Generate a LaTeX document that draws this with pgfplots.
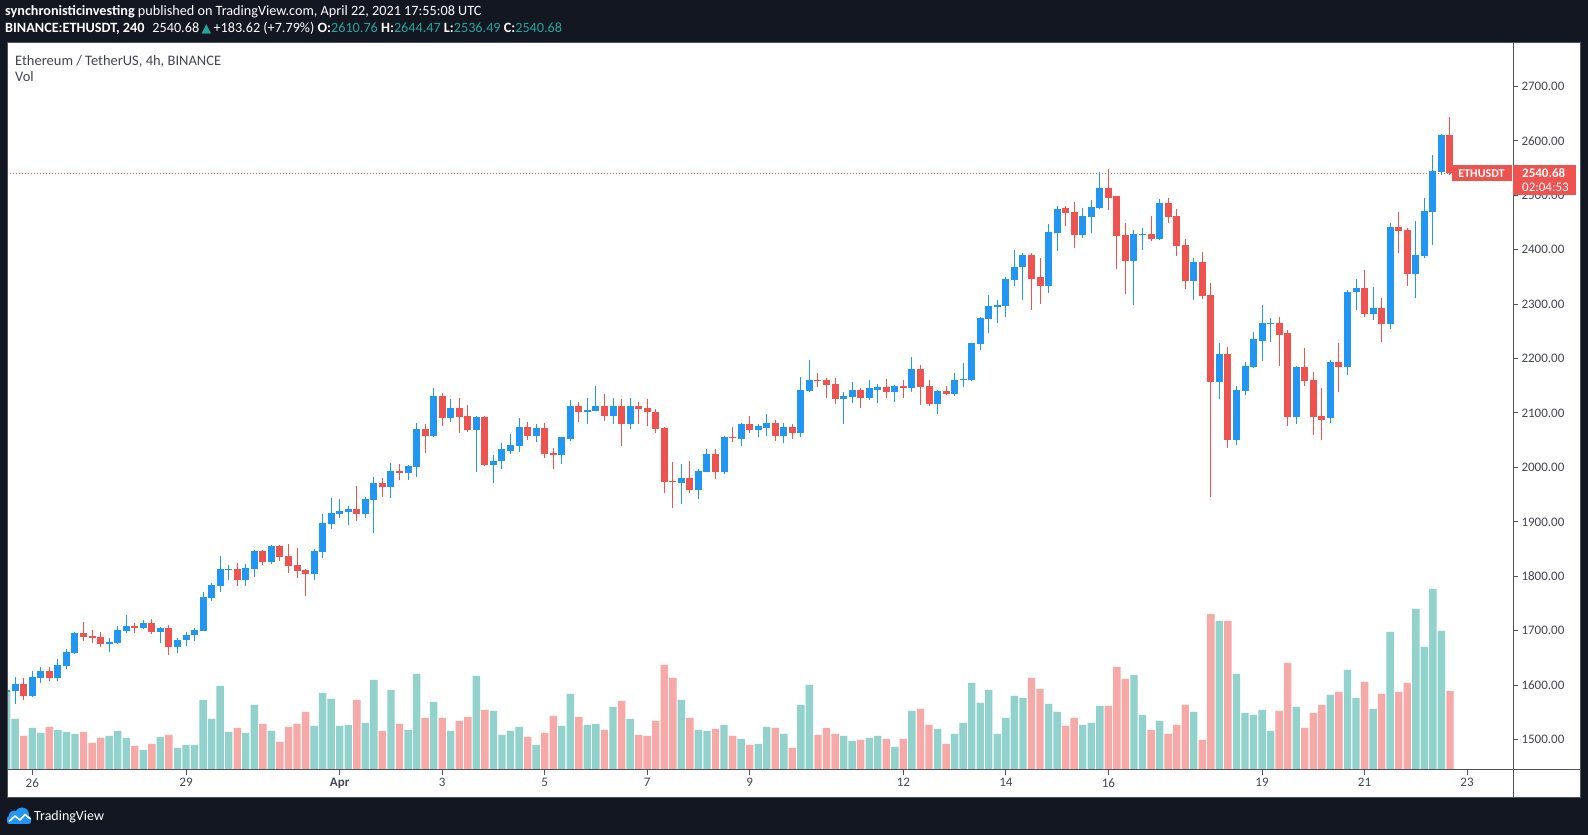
\documentclass[border=0pt]{standalone}
\usepackage{fontspec}
\setmainfont{Carlito}
\newfontfamily\dejavu{DejaVu Sans}
\usepackage{pgfplots}
\pgfplotsset{compat=1.18}
\usepackage{pgfplotstable}
\definecolor{bg}{RGB}{19,23,34}
\definecolor{upc}{RGB}{33,150,243}
\definecolor{dnc}{RGB}{239,83,80}
\definecolor{upv}{RGB}{146,210,204}
\definecolor{dnv}{RGB}{247,169,167}
\definecolor{tealc}{RGB}{38,166,154}
\definecolor{axc}{RGB}{80,83,94}
\definecolor{labc}{RGB}{67,70,81}
\definecolor{tvblue}{RGB}{33,150,243}

% up candles: t o h l c v
\pgfplotstableread{
t o h l c v
-3 1587 1593 1585 1591 79
-2 1589 1615 1565 1602 51
0 1580 1626 1579 1615 42
1 1613 1633 1604 1626 37
3 1613 1648 1607 1637 40
4 1635 1666 1630 1661 38
5 1659 1697 1657 1696 36
9 1676 1687 1661 1679 34
10 1677 1709 1676 1701 39
11 1700 1729 1696 1709 32
13 1705 1720 1703 1714 20
15 1698 1707 1677 1705 33
17 1670 1687 1659 1683 22
18 1683 1698 1672 1692 25
19 1692 1705 1681 1701 25
20 1700 1771 1699 1762 70
21 1760 1788 1755 1784 51
22 1782 1838 1771 1814 84
23 1812 1821 1793 1814 38
25 1793 1823 1782 1815 37
26 1814 1848 1799 1847 65
28 1826 1857 1823 1856 39
33 1804 1850 1793 1847 44
34 1845 1915 1834 1898 77
35 1896 1944 1887 1917 71
36 1915 1942 1907 1920 44
37 1918 1929 1895 1924 45
39 1915 1946 1907 1942 47
40 1941 1983 1880 1972 90
42 1964 2009 1944 1994 80
44 1990 2005 1977 2003 40
45 2001 2082 1983 2071 96
47 2058 2145 2056 2132 68
49 2090 2126 2084 2110 39
52 2068 2094 1992 2093 94
54 2005 2023 1972 2012 59
55 2012 2044 1998 2033 35
56 2031 2062 2025 2042 39
57 2040 2090 2029 2075 43
59 2058 2079 2047 2073 25
62 2023 2056 2007 2055 44
63 2053 2123 2049 2112 76
65 2101 2128 2080 2106 45
66 2104 2149 2103 2112 46
68 2095 2128 2080 2112 63
70 2080 2128 2071 2112 51
76 1972 2007 1933 1981 70
78 1959 1998 1942 1994 40
79 1992 2033 1991 2025 39
81 1992 2058 1988 2056 45
83 2053 2082 2040 2079 31
85 2069 2080 2055 2077 26
86 2073 2099 2057 2082 43
88 2058 2082 2044 2075 36
90 2064 2167 2055 2143 65
91 2141 2198 2138 2161 85
95 2125 2139 2080 2132 34
96 2130 2156 2119 2143 29
98 2127 2160 2123 2145 32
99 2143 2154 2119 2147 34
101 2139 2151 2121 2150 23
103 2145 2202 2139 2180 59
106 2117 2143 2099 2141 41
108 2134 2174 2132 2161 36
109 2160 2191 2147 2162 47
110 2160 2229 2159 2228 87
111 2226 2276 2215 2274 67
112 2272 2316 2246 2296 80
113 2294 2307 2265 2298 36
114 2296 2349 2277 2346 52
115 2344 2399 2334 2369 74
116 2368 2393 2307 2390 72
119 2333 2447 2320 2432 66
120 2430 2480 2397 2474 58
123 2427 2476 2421 2461 45
124 2460 2491 2430 2478 47
125 2476 2542 2474 2513 64
129 2380 2436 2298 2428 95
130 2426 2439 2399 2428 55
132 2419 2493 2418 2485 49
136 2342 2384 2307 2377 58
139 2157 2228 2125 2209 149
141 2050 2149 2042 2143 96
142 2140 2193 2133 2187 57
143 2185 2248 2183 2235 55
144 2233 2299 2195 2265 60
145 2263 2274 2230 2266 39
148 2092 2187 2079 2185 63
152 2090 2198 2082 2193 75
154 2184 2325 2169 2323 100
155 2322 2346 2290 2329 72
157 2281 2331 2270 2292 61
159 2263 2449 2255 2441 138
162 2355 2452 2311 2390 161
163 2388 2495 2384 2471 123
164 2469 2574 2408 2544 181
165 2542 2612 2537 2611 139
}\upT

% down candles: t o h l c v
\pgfplotstableread{
t o h l c v
-1 1602 1613 1572 1580 34
2 1626 1633 1607 1613 43
6 1696 1716 1681 1688 38
7 1690 1701 1677 1687 27
8 1688 1698 1670 1676 32
12 1709 1714 1696 1705 24
14 1714 1722 1694 1698 26
16 1705 1711 1655 1670 35
24 1814 1825 1782 1793 42
27 1847 1848 1821 1826 46
29 1856 1857 1828 1836 28
30 1837 1860 1806 1819 43
31 1821 1852 1797 1810 46
32 1812 1814 1764 1804 58
38 1924 1966 1902 1915 70
41 1972 1981 1946 1964 39
43 1994 2007 1977 1990 46
46 2071 2080 2027 2058 52
48 2132 2136 2077 2090 52
50 2110 2128 2064 2093 49
51 2095 2115 2066 2068 53
53 2093 2094 2003 2005 60
58 2075 2084 2051 2058 33
60 2073 2082 2018 2025 37
61 2027 2036 1998 2023 54
64 2112 2121 2084 2101 53
67 2112 2134 2086 2095 40
69 2112 2126 2040 2080 69
71 2112 2121 2080 2108 35
72 2110 2126 2077 2101 34
73 2102 2108 2064 2071 49
74 2073 2074 1953 1974 105
75 1976 2010 1926 1974 92
77 1981 2012 1953 1959 52
80 2025 2034 1979 1992 41
82 2056 2075 2047 2054 34
84 2079 2095 2064 2069 25
87 2082 2088 2049 2058 42
89 2075 2080 2053 2064 22
92 2161 2174 2147 2158 35
93 2160 2165 2127 2152 42
94 2154 2165 2117 2125 36
97 2143 2145 2110 2127 30
100 2147 2163 2127 2139 31
102 2150 2161 2127 2145 31
104 2180 2189 2115 2147 61
105 2149 2160 2112 2117 45
107 2141 2150 2133 2134 26
117 2390 2393 2290 2346 92
118 2349 2384 2300 2333 81
121 2476 2480 2443 2467 44
122 2469 2487 2403 2427 52
126 2513 2548 2473 2495 64
127 2498 2499 2364 2425 103
128 2427 2449 2318 2380 91
131 2428 2461 2415 2419 40
133 2485 2495 2449 2460 36
134 2461 2474 2388 2406 45
135 2408 2419 2327 2342 65
137 2377 2395 2310 2314 30
138 2316 2338 1945 2157 156
140 2209 2222 2035 2050 149
146 2266 2277 2187 2244 59
147 2246 2252 2077 2092 107
149 2185 2219 2149 2158 42
150 2160 2176 2060 2093 57
151 2095 2145 2051 2088 65
153 2193 2228 2138 2184 78
156 2329 2362 2276 2281 88
158 2292 2311 2231 2263 76
160 2441 2469 2393 2434 78
161 2436 2439 2333 2355 87
166 2610.76 2644.47 2536.49 2540.68 79
}\dnT

\begin{document}
\begin{tikzpicture}
\begin{scope}[x=1pt,y=1pt]
\fill[bg] (0,0) rectangle (1588,835);
\fill[white] (7,37) rectangle (1580,792);
\end{scope}

% volume pane
\begin{axis}[scale only axis, width=1506pt, height=727pt, at={(7pt,65pt)}, anchor=south west,
  xmin=-2.96, xmax=173.38, ymin=0, ymax=727, hide axis, clip=true]
\addplot[ybar, bar width=7.4pt, bar shift=0pt, fill=upv, draw=none] table[x=t,y=v]{\upT};
\addplot[ybar, bar width=7.4pt, bar shift=0pt, fill=dnv, draw=none] table[x=t,y=v]{\dnT};
\end{axis}

% price pane
\begin{axis}[scale only axis, width=1506pt, height=727pt, at={(7pt,65pt)}, anchor=south west,
  xmin=-2.96, xmax=173.38, ymin=1444.35, ymax=2779.5,
  axis line style={draw=none},
  xtick={0,18,36,48,60,72,84,102,114,126,144,156,168},
  xticklabels={26,29,\textbf{Apr},3,5,7,9,12,14,16,19,21,23},
  ytick={1500,1600,1700,1800,1900,2000,2100,2200,2300,2400,2500,2600,2700},
  yticklabels={1500.00,1600.00,1700.00,1800.00,1900.00,2000.00,2100.00,2200.00,2300.00,2400.00,2500.00,2600.00,2700.00},
  xtick pos=left, ytick pos=right, yticklabel pos=right,
  tick align=outside, major tick length=5pt,
  tick style={draw=axc, line width=1pt},
  tick label style={font=\fontsize{13}{15}\selectfont, text=labc},
  clip=true]
\addplot[dnc, line width=1pt, dash pattern=on 1pt off 2pt, forget plot] coordinates {(-3,2540.68) (174,2540.68)};
% wicks
\addplot[draw=none, mark=none, forget plot, error bars/.cd, y dir=plus, y explicit, error mark=none,
  error bar style={draw=upc, line width=1pt}]
  table[x=t, y=l, y error plus expr=\thisrow{h}-\thisrow{l}]{\upT};
\addplot[draw=none, mark=none, forget plot, error bars/.cd, y dir=plus, y explicit, error mark=none,
  error bar style={draw=dnc, line width=1pt}]
  table[x=t, y=l, y error plus expr=\thisrow{h}-\thisrow{l}]{\dnT};
% bodies
\addplot[draw=none, mark=none, forget plot, error bars/.cd, y dir=plus, y explicit, error mark=none,
  error bar style={draw=upc, line width=7pt}]
  table[x=t, y=o, y error plus expr=\thisrow{c}-\thisrow{o}]{\upT};
\addplot[draw=none, mark=none, forget plot, error bars/.cd, y dir=plus, y explicit, error mark=none,
  error bar style={draw=dnc, line width=7pt}]
  table[x=t, y=c, y error plus expr=\thisrow{o}-\thisrow{c}]{\dnT};
\end{axis}

\begin{scope}[x=1pt,y=1pt]
% frame lines
\draw[axc, line width=1pt] (7,37) rectangle (1580,792);
\draw[axc, line width=1pt] (1513,37) -- (1513,792);
\draw[axc, line width=1pt] (7,65) -- (1580,65);
% last price labels
\fill[dnc] (1452,654) rectangle (1512,669.5);
\node[text=white, font=\bfseries\fontsize{12}{14}\selectfont, inner sep=0pt] at (1481.5,661.7) {ETHUSDT};
\fill[dnc] (1513,639.7) rectangle (1576,669.7);
\node[text=white, font=\bfseries\fontsize{13}{15}\selectfont, anchor=west, inner sep=0pt] at (1522,662) {2540.68};
\node[text=white, font=\fontsize{13}{15}\selectfont, anchor=west, inner sep=0pt] at (1522,648) {02:04:53};
% header
\node[anchor=base west, text=white, inner sep=0pt, font=\fontsize{14.2}{16}\selectfont] at (5,819)
  {\textbf{synchronisticinvesting} published on TradingView.com, April 22, 2021 17:55:08 UTC};
\node[anchor=base west, text=white, inner sep=0pt, font=\fontsize{14.2}{16}\selectfont] at (5,802)
  {\textbf{BINANCE:ETHUSDT, 240}\hspace{8pt}2540.68\,{\color{tealc}\dejavu\fontsize{12.5}{14}\selectfont ▲}\,+183.62 (+7.79\%) \textbf{O:}\textcolor{tealc}{2610.76} \textbf{H:}\textcolor{tealc}{2644.47} \textbf{L:}\textcolor{tealc}{2536.49} \textbf{C:}\textcolor{tealc}{2540.68}};
% pane titles
\node[anchor=base west, text=labc, inner sep=0pt, font=\fontsize{14.5}{16}\selectfont] at (15,769.7) {Ethereum / TetherUS, 4h, BINANCE};
\node[anchor=base west, text=labc, inner sep=0pt, font=\fontsize{14.5}{16}\selectfont] at (15,753.3) {Vol};
% TradingView logo
\fill[tvblue, rounded corners=2.5pt] (7,11) rectangle (31,19);
\fill[tvblue] (14,19) circle (5.5);
\fill[tvblue] (22,20.5) circle (7);
\draw[white, line width=1.6pt, line join=round] (9,13.5) -- (15,19) -- (20,15) -- (25,20.5) -- (30.5,16);
\node[anchor=base west, text=white, inner sep=0pt, font=\fontsize{14}{16}\selectfont] at (34,14.3) {TradingView};
\end{scope}
\pgfresetboundingbox
\useasboundingbox (0,0) rectangle (1588pt,835pt);
\end{tikzpicture}
\end{document}
